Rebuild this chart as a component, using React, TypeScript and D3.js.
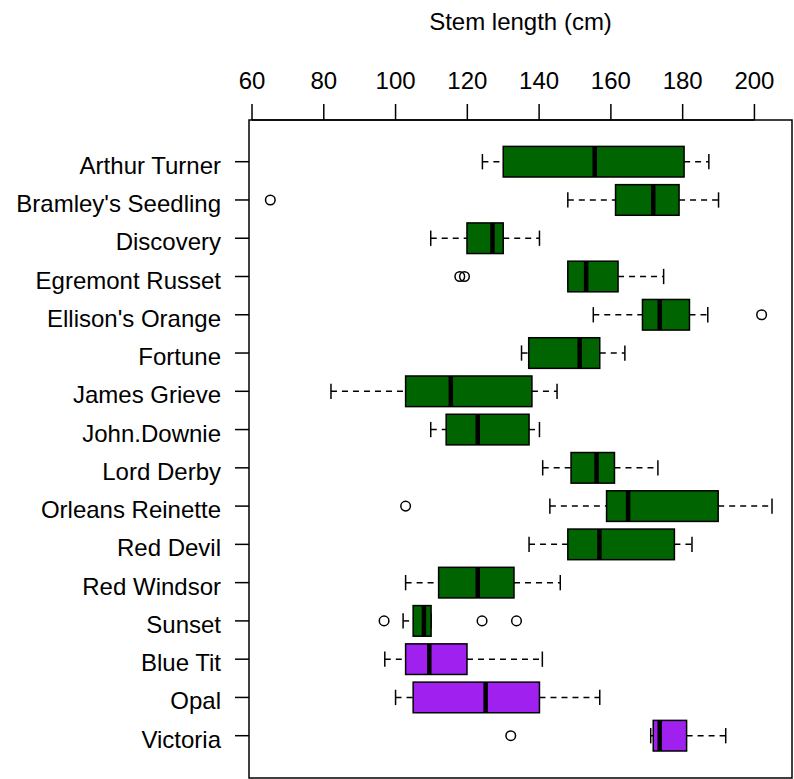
import React from 'react';
import * as d3 from 'd3';

const cultivars = [
  'Arthur Turner', "Bramley's Seedling", 'Discovery', 'Egremont Russet',
  "Ellison's Orange", 'Fortune', 'James Grieve', 'John.Downie', 'Lord Derby',
  'Orleans Reinette', 'Red Devil', 'Red Windsor', 'Sunset', 'Blue Tit', 'Opal', 'Victoria',
];
const groups = [
  'old', 'old', 'old', 'old', 'old', 'old', 'old', 'old', 'old', 'old', 'old', 'old', 'old',
  'new', 'new', 'new',
];
const lowerWhisker = [124.2, 148.0, 109.8, 148.0, 155.1, 135.1, 82.0, 109.8, 141.0, 143.0, 137.2, 102.8, 102.1, 97.0, 100.0, 171.1];
const q1 = [130.0, 161.3, 119.9, 148.0, 168.8, 137.1, 102.8, 114.1, 148.9, 158.8, 148.0, 112.0, 104.9, 102.8, 104.9, 171.8];
const median = [155.5, 171.8, 127.0, 153.1, 173.6, 151.3, 115.4, 122.9, 156.0, 164.8, 156.8, 122.9, 107.9, 109.4, 125.1, 173.6];
const q3 = [180.4, 179.0, 130.0, 162.0, 181.9, 156.9, 138.0, 137.2, 161.0, 189.9, 177.7, 133.0, 109.9, 119.9, 140.1, 181.1];
const upperWhisker = [187.3, 190.0, 140.1, 174.7, 187.0, 163.9, 145.0, 140.1, 173.1, 204.9, 182.6, 145.9, 109.9, 140.9, 156.9, 192.0];
const outliers: number[][] = [[], [65.1], [], [117.9, 119.2], [202.0], [], [], [], [], [102.8], [], [], [96.8, 124.1, 133.7], [], [], [132.1]];
const xTicks = [60, 80, 100, 120, 140, 160, 180, 200];

const W = 794;
const H = 779;
const FONT = '"Liberation Sans", Arial, sans-serif';
const COLORS: Record<string, string> = { old: '#006400', new: '#a020f0' };

export default function App() {
  const left = 249, right = 792, top = 120, bottom = 778;

  const x = d3.scaleLinear().domain([59.16, 210.47]).range([left, right]);
  const y = d3.scalePoint<string>().domain(cultivars).range([161.7, 735.7]);
  const step = y.step();
  const boxH = step * 0.8;
  const capH = boxH * 0.5;

  return (
    <svg width={W} height={H} style={{ position: 'absolute', left: 0, top: 0, background: '#fff' }}
      fontFamily={FONT}>
      <text x={(left + right) / 2} y={30} textAnchor="middle" fontSize={24}>Stem length (cm)</text>

      {/* top axis */}
      <line x1={x(60)} x2={x(200)} y1={top} y2={top} stroke="#000" strokeWidth={1.5} />
      {xTicks.map(t => (
        <g key={t}>
          <line x1={x(t)} x2={x(t)} y1={top} y2={top - 16} stroke="#000" strokeWidth={1.5} />
          <text x={x(t)} y={89} textAnchor="middle" fontSize={24}>{t}</text>
        </g>
      ))}

      {/* left axis */}
      {cultivars.map(c => (
        <g key={c}>
          <line x1={left} x2={left - 14} y1={y(c)} y2={y(c)} stroke="#000" strokeWidth={1.5} />
          <text x={221} y={(y(c) as number) + 12} textAnchor="end" fontSize={24}>{c}</text>
        </g>
      ))}

      {/* boxes */}
      {cultivars.map((c, i) => {
        const cy = y(c) as number;
        return (
          <g key={c} stroke="#000">
            <line x1={x(lowerWhisker[i])} x2={x(q1[i])} y1={cy} y2={cy} strokeWidth={1.5} strokeDasharray="6,5" />
            <line x1={x(q3[i])} x2={x(upperWhisker[i])} y1={cy} y2={cy} strokeWidth={1.5} strokeDasharray="6,5" />
            <line x1={x(lowerWhisker[i])} x2={x(lowerWhisker[i])} y1={cy - capH / 2} y2={cy + capH / 2} strokeWidth={1.5} />
            <line x1={x(upperWhisker[i])} x2={x(upperWhisker[i])} y1={cy - capH / 2} y2={cy + capH / 2} strokeWidth={1.5} />
            <rect x={x(q1[i])} y={cy - boxH / 2} width={x(q3[i]) - x(q1[i])} height={boxH}
              fill={COLORS[groups[i]]} strokeWidth={1.5} />
            <line x1={x(median[i])} x2={x(median[i])} y1={cy - boxH / 2} y2={cy + boxH / 2} strokeWidth={4.5} />
            {outliers[i].map((o, j) => (
              <circle key={j} cx={x(o)} cy={cy} r={4.8} fill="none" strokeWidth={1.5} />
            ))}
          </g>
        );
      })}

      <rect x={left} y={top} width={right - left} height={bottom - top} fill="none" stroke="#000" strokeWidth={1.5} />
    </svg>
  );
}
